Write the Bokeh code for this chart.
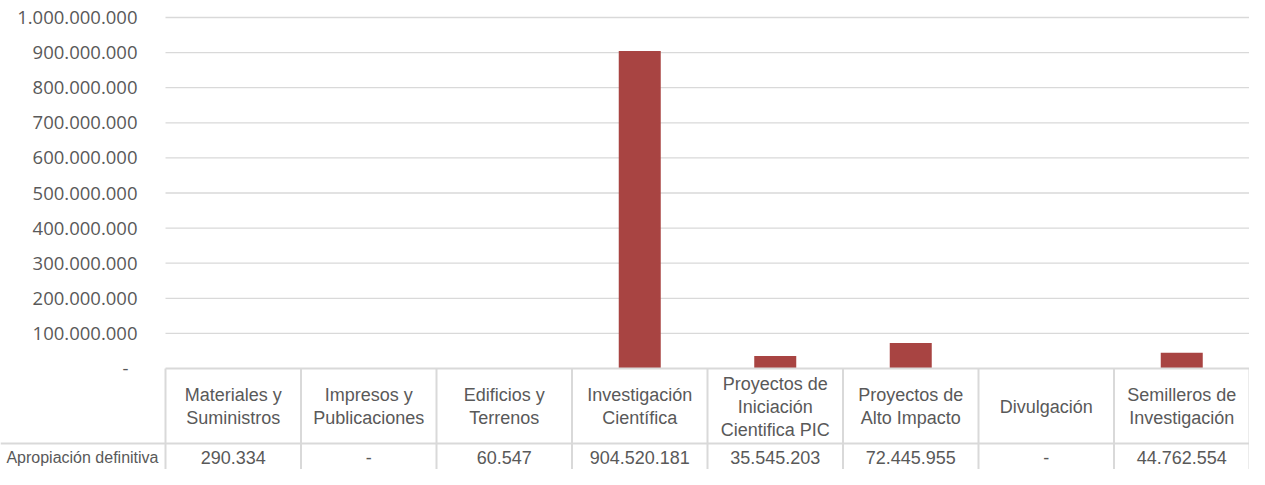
from bokeh.plotting import figure
from bokeh.models import Range1d, ColumnDataSource
from bokeh.core.properties import value
from bokeh.embed import file_html
from bokeh.resources import INLINE

categories = ["Materiales y\nSuministros", "Impresos y\nPublicaciones", "Edificios y\nTerrenos",
              "Investigación\nCientífica", "Proyectos de\nIniciación\nCientifica PIC",
              "Proyectos de\nAlto Impacto", "Divulgación", "Semilleros de\nInvestigación"]
values = [290334, 0, 60547, 904520181, 35545203, 72445955, 0, 44762554]
series_name = "Apropiación definitiva"
y_ticks = [i * 100000000 for i in range(11)]

BAR = "#A84442"
GRID = "#D9D9D9"
TXT = "#595959"

W, H = 1249, 469
PLOT_LEFT = 165          # canvas x where the first category column starts
ZERO_PX = 368.0          # canvas y of value 0
TOP_PX = 17.0            # canvas y of value 1e9
n = len(categories)
col_px = (W - PLOT_LEFT) / n
yscale = (ZERO_PX - TOP_PX) / 1e9


def yv(cy):
    return (ZERO_PX - cy) / yscale


def xv(cx):
    return (cx - PLOT_LEFT) / col_px


def fmt(v):
    return "-" if v == 0 else f"{v:,}".replace(",", ".")


p = figure(width=W, height=H, output_backend="svg", toolbar_location=None,
           x_range=Range1d(xv(0), n), y_range=Range1d(yv(H), yv(0)),
           x_axis_location=None, y_axis_location=None,
           min_border_left=0, min_border_right=0, min_border_top=0, min_border_bottom=0)
p.outline_line_color = None
p.background_fill_color = "white"
p.border_fill_color = "white"
p.xgrid.grid_line_color = None
p.ygrid.grid_line_color = None

# horizontal gridlines (value ticks)
grid_ticks = y_ticks[1:]
p.segment(x0=[0] * len(grid_ticks), y0=grid_ticks, x1=[n] * len(grid_ticks), y1=grid_ticks,
          line_color=GRID, line_width=1.3)

# value tick labels
tsrc = ColumnDataSource(dict(y=y_ticks, lab=[fmt(t) for t in y_ticks],
                             off=[-9 if t == 0 else 0 for t in y_ticks]))
p.text(x=xv(137), y="y", text="lab", x_offset="off", source=tsrc, text_align="right",
       text_baseline="middle", text_font=value("Open Sans"), text_font_size="18.5px",
       text_color=TXT)

# bars
xs = [i + 0.5 for i in range(n)]
src = ColumnDataSource(dict(x=xs, top=values, cat=categories, lab=[fmt(v) for v in values]))
p.vbar(x="x", top="top", bottom=0, width=0.31, source=src, fill_color=BAR, line_color=None)

# data table lines
hdr_bottom = yv(443)
bottom = yv(H)
p.segment(x0=[0], y0=[0], x1=[n], y1=[0], line_color=GRID, line_width=2)
p.segment(x0=[xv(0)], y0=[hdr_bottom], x1=[n], y1=[hdr_bottom], line_color=GRID, line_width=2)
vx = list(range(n + 1))
p.segment(x0=vx, y0=[0] * len(vx), x1=vx, y1=[bottom] * len(vx), line_color=GRID, line_width=2)

tfont = value("Liberation Sans")
p.text(x="x", y=yv(406), text="cat", source=src, text_align="center", text_baseline="middle",
       text_font=tfont, text_font_size="18px", text_color=TXT, text_line_height=1.15)
p.text(x="x", y=yv(457), text="lab", source=src, text_align="center", text_baseline="middle",
       text_font=tfont, text_font_size="18px", text_color=TXT)
p.text(x=[xv(158)], y=[yv(457)], text=[series_name], text_align="right", text_baseline="middle",
       text_font=tfont, text_font_size="16px", text_color=TXT)

open("out.html", "w").write(file_html(p, INLINE))
